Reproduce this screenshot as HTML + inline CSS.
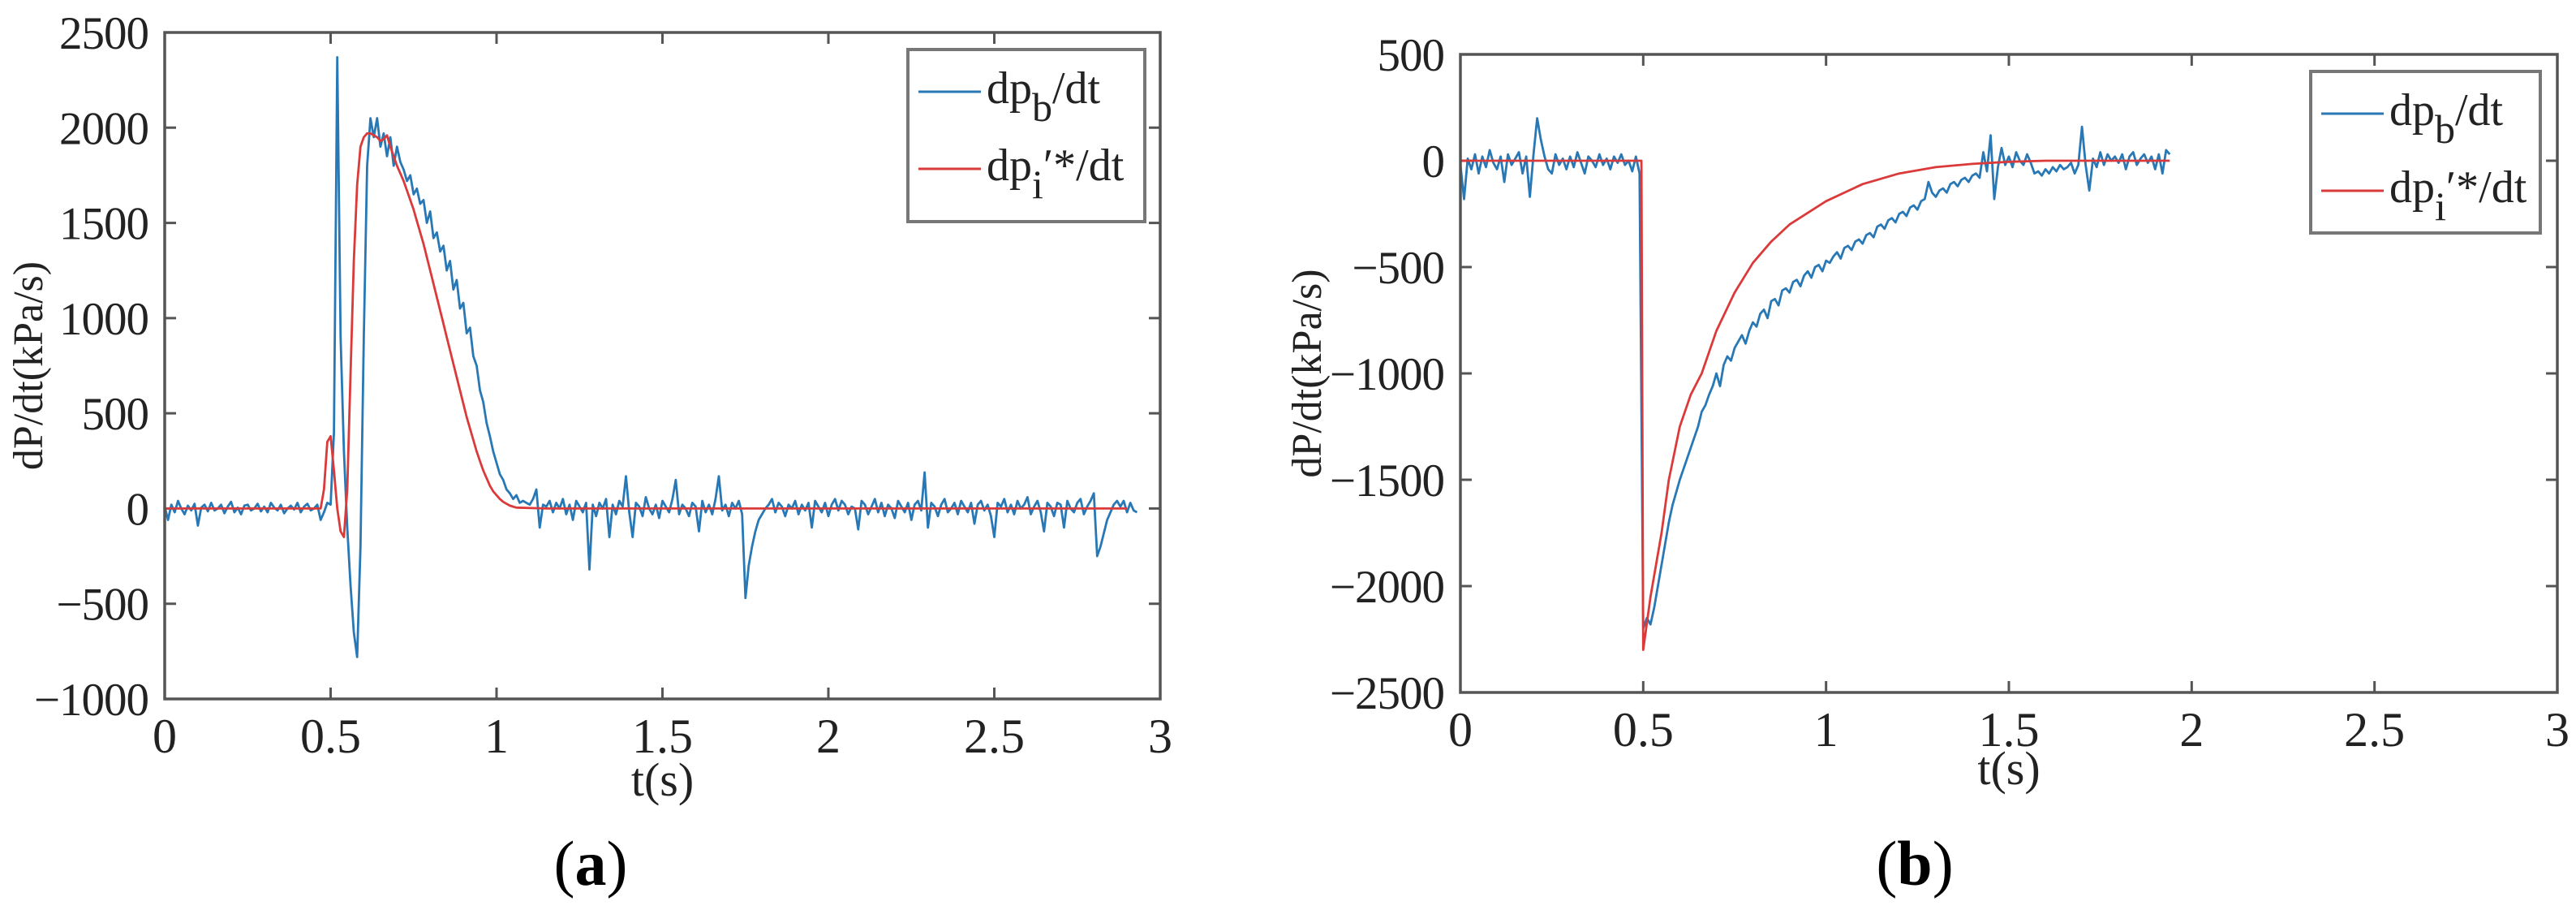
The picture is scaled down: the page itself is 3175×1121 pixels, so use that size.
<!DOCTYPE html>
<html><head><meta charset="utf-8"><style>
html,body{margin:0;padding:0;background:#fff;}
svg{display:block;font-family:"Liberation Serif",serif;}
</style></head><body>
<svg id="fig" width="3175" height="1121" viewBox="0 0 3175 1121" xmlns="http://www.w3.org/2000/svg">
<rect width="3175" height="1121" fill="#fff"/>
<g id="pa"></g>
<g id="pb"></g>
<text x="728" y="1090" font-size="78" text-anchor="middle">(<tspan font-weight="bold">a</tspan>)</text>
<text x="2360" y="1090" font-size="78" text-anchor="middle">(<tspan font-weight="bold">b</tspan>)</text>
</svg>
<script>
// ---- Panel (a) data ----
const xTicks = [0,0.5,1,1.5,2,2.5,3];
const xTickLabels = ["0","0.5","1","1.5","2","2.5","3"];
const yTicksA = [-1000,-500,0,500,1000,1500,2000,2500];
const yTickLabelsA = ["\u22121000","\u2212500","0","500","1000","1500","2000","2500"];
const blueA = [10,-60,20,-20,40,0,-30,15,-10,25,-90,5,20,-15,30,-10,0,20,-25,10,35,-20,5,-30,15,20,-10,0,25,-15,10,-20,30,5,-10,20,-25,0,15,-5,30,-20,10,25,-10,0,20,-60,
-20,30,20,400,2370,900,300,-100,-400,-650,-780,-200,900,1800,2050,1950,2050,1900,1970,1850,1950,1800,1900,1820,1780,1720,1750,1650,1680,1600,1620,1500,1560,1420,1450,1350,1380,1250,1300,1150,1200,1050,1080,920,950,800,750,620,560,450,380,300,240,180,150,100,80,50,70,30,40,
30,20,50,100,-100,20,10,40,-20,30,
0,50,-30,20,-60,40,10,-20,30,-320,
20,-40,30,0,50,-150,20,-30,40,10,
170,-20,-150,30,10,-40,60,0,-30,20,
-50,40,10,-20,50,150,-30,20,0,-40,
30,10,-120,40,-20,20,-30,50,170,-10,
20,-40,30,0,40,-30,-470,-300,-200,-120,
-60,-30,0,20,50,-20,30,10,-40,20,
0,40,-30,20,-10,30,-100,40,10,-20,
30,-40,20,50,-10,40,20,-30,10,0,
-110,40,20,-30,10,50,-20,30,-40,20,
0,-50,40,10,-20,30,-60,20,40,-10,
190,-100,30,10,-40,20,50,-20,0,30,
-30,40,10,-20,30,-80,20,40,-10,20,
-40,-150,30,10,50,-20,20,-30,40,0,
20,60,-30,10,40,-20,-120,30,10,-40,
30,20,-100,40,0,-20,30,50,-30,10,
40,80,-250,-200,-130,-60,-20,20,40,10,
40,-20,30,-10,-20];
const blueADt = 0.01;
const redATimes = [0,0.47,0.48,0.49,0.50,0.51,0.52,0.53,0.54,0.55,0.56,0.57,0.58,0.59,0.60,0.61,0.62,0.63,0.64,0.65,0.66,0.67,0.68,0.69,0.70,0.71,0.72,0.73,0.74,0.75,0.76,0.77,0.78,0.79,0.80,0.81,0.82,0.83,0.84,0.85,0.86,0.87,0.88,0.89,0.90,0.91,0.92,0.93,0.94,0.95,0.96,0.97,0.98,0.99,1.00,1.01,1.02,1.03,1.04,1.05,1.06,1.15,2.90];
const redAValues = [0,0,100,350,380,200,0,-120,-150,100,700,1300,1700,1900,1950,1970,1970,1960,1950,1930,1940,1960,1900,1850,1800,1760,1720,1670,1620,1570,1510,1450,1390,1320,1250,1180,1110,1040,970,900,830,760,690,620,550,480,420,360,300,250,200,160,120,90,70,50,35,25,15,10,5,0,0];

// ---- Panel (b) data ----
const yTicksB = [-2500,-2000,-1500,-1000,-500,0,500];
const yTickLabelsB = ["\u22122500","\u22122000","\u22121500","\u22121000","\u2212500","0","500"];
const blueB = [-20,-180,10,-40,30,-60,20,-30,50,-10,-40,20,-100,30,-20,10,40,-60,20,-170,30,200,100,20,-40,-60,30,-20,10,-40,20,-30,40,-10,-60,20,0,-30,30,-20,10,-40,20,-10,30,-20,0,-50,20,-60,
-2200,-2150,-2180,-2100,-2000,-1900,-1800,-1700,-1620,-1560,
-1500,-1450,-1400,-1350,-1300,-1250,-1180,-1150,-1100,-1060,
-1000,-1060,-960,-920,-940,-880,-850,-820,-860,-800,
-760,-780,-720,-700,-740,-660,-650,-680,-610,-600,
-620,-570,-560,-590,-540,-520,-550,-500,-490,-520,
-470,-480,-450,-430,-460,-410,-400,-420,-380,-370,
-390,-350,-340,-360,-310,-300,-320,-280,-270,-290,
-250,-240,-260,-220,-210,-230,-190,-180,-100,-150,
-170,-140,-130,-150,-110,-100,-120,-90,-80,-100,
-70,-60,-80,40,-50,120,-180,-30,60,-20,
20,-30,40,0,-20,30,-10,-60,-50,-70,
-40,-60,-30,-50,-20,-40,-30,-10,-60,-20,
160,-20,-140,10,-30,40,-20,30,0,20,
-10,30,-40,20,40,-20,10,30,-10,20,
-40,30,-60,50,30];
const blueBDt = 0.01;
const redBTimes = [0,0.495,0.50,0.52,0.55,0.57,0.60,0.63,0.66,0.70,0.75,0.80,0.85,0.90,1.0,1.1,1.2,1.3,1.4,1.5,1.6,1.94];
const redBValues = [0,0,-2300,-2050,-1750,-1500,-1250,-1100,-1000,-800,-620,-480,-380,-300,-190,-110,-60,-30,-15,-5,0,0];

const NS = "http://www.w3.org/2000/svg";
function mk(parent, tag, attrs, text){
  const e = document.createElementNS(NS, tag);
  for (const k in attrs) e.setAttribute(k, attrs[k]);
  if (text !== undefined) e.textContent = text;
  parent.appendChild(e);
  return e;
}
const BLUE = "#2878b5", RED = "#db3a3a", AX = "#555";

function drawPanel(g, cfg){
  const {L,R,T,B,xmin,xmax,ymin,ymax,yTicks,yLabels,leg,ylabX,tsY} = cfg;
  const X = t => L + (t - xmin) / (xmax - xmin) * (R - L);
  const Y = v => B - (v - ymin) / (ymax - ymin) * (B - T);
  xTicks.forEach((t,i) => {
    const tk = mk(g,'path',{d:`M${X(t)},${B}V${B-14}M${X(t)},${T}V${T+14}`,stroke:AX,'stroke-width':3});
    
    
    const lb = mk(g,'text',{x:X(t),y:B+66,'font-size':60,'text-anchor':'middle',fill:'#222'},xTickLabels[i]);
    
    
  });
  yTicks.forEach((v,i) => {
    const tk = mk(g,'path',{d:`M${L},${Y(v)}H${L+14}M${R},${Y(v)}H${R-14}`,stroke:AX,'stroke-width':3});
    
    
    const lb = mk(g,'text',{x:L-20,y:Y(v)+20,'font-size':57,'letter-spacing':-1,'text-anchor':'end',fill:'#222'},yLabels[i]);
    
    
  });
  let d = '';
  cfg.blue.forEach((v,i) => { d += (i?'L':'M') + X(i*cfg.dt).toFixed(1) + ',' + Y(v).toFixed(1); });
  const bl = mk(g,'path',{d,fill:'none',stroke:BLUE,'stroke-width':2.8,'stroke-linejoin':'round'});
  
  
  d = '';
  cfg.redT.forEach((t,i) => { d += (i?'L':'M') + X(t).toFixed(1) + ',' + Y(cfg.redV[i]).toFixed(1); });
  const rl = mk(g,'path',{d,fill:'none',stroke:RED,'stroke-width':2.8,'stroke-linejoin':'round'});
  
  
  const bx = mk(g,'rect',{x:L,y:T,width:R-L,height:B-T,fill:'none',stroke:AX,'stroke-width':3.5});
  
  
  const lg = mk(g,'g',{});
  
  
  mk(lg,'rect',{x:leg[0],y:leg[1],width:leg[2]-leg[0],height:leg[3]-leg[1],fill:'#fff',stroke:'#777','stroke-width':4});
  const ly1 = leg[1]+52, ly2 = leg[1]+147;
  const e1 = mk(lg,'g',{});
  
  
  mk(e1,'line',{x1:leg[0]+13,x2:leg[0]+90,y1:ly1,y2:ly1,stroke:BLUE,'stroke-width':3});
  const t1 = mk(e1,'text',{x:leg[0]+97,y:ly1+14,'font-size':56,fill:'#222'});
  t1.innerHTML = 'dp<tspan dy="22" font-size="50">b</tspan><tspan dy="-22">/dt</tspan>';
  const e2 = mk(lg,'g',{});
  
  
  mk(e2,'line',{x1:leg[0]+13,x2:leg[0]+90,y1:ly2,y2:ly2,stroke:RED,'stroke-width':3});
  const t2 = mk(e2,'text',{x:leg[0]+97,y:ly2+14,'font-size':56,fill:'#222'});
  t2.innerHTML = 'dp<tspan dy="22" font-size="50">i</tspan><tspan dy="-22">\u2032*/dt</tspan>';
  const cy = (T+B)/2;
  const yl = mk(g,'text',{x:ylabX,y:cy,'font-size':52,'text-anchor':'middle',fill:'#222',transform:`rotate(-90 ${ylabX} ${cy})`},'dP/dt(kPa/s)');
  
  
  const xl = mk(g,'text',{x:X(1.5),y:tsY,'font-size':58,'text-anchor':'middle',fill:'#222'},'t(s)');
  
  
}

drawPanel(document.getElementById('pa'),{L:203,R:1430,T:40,B:861,xmin:0,xmax:3,ymin:-1000,ymax:2500,
  yTicks:yTicksA,yLabels:yTickLabelsA,leg:[1119,61,1411,273],ylabX:52,tsY:980,
  blue:blueA,dt:blueADt,redT:redATimes,redV:redAValues});
drawPanel(document.getElementById('pb'),{L:1800,R:3152,T:67,B:853,xmin:0,xmax:3,ymin:-2500,ymax:500,
  yTicks:yTicksB,yLabels:yTickLabelsB,leg:[2848,88,3131,287],ylabX:1628,tsY:966,
  blue:blueB,dt:blueBDt,redT:redBTimes,redV:redBValues});
</script>
</body></html>
